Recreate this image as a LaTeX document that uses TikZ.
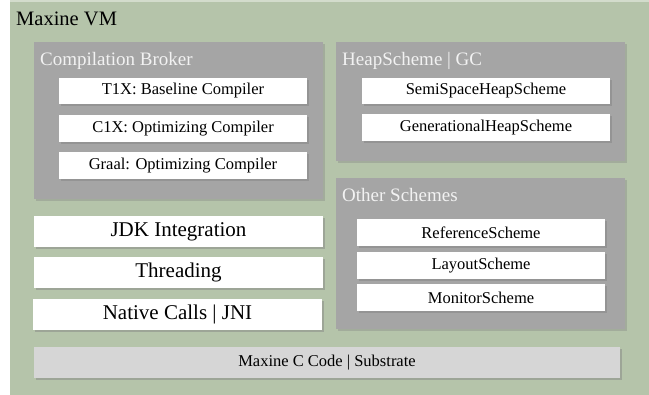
\documentclass[tikz,border=0pt]{standalone}
\usepackage{fontspec}
\setmainfont{Liberation Serif}
\usetikzlibrary{shadows}
\definecolor{vmgreen}{RGB}{181,196,170}
\definecolor{boxgray}{RGB}{165,165,165}
\definecolor{subgray}{RGB}{214,214,214}
\definecolor{titlewhite}{RGB}{242,242,242}

\begin{document}
\begin{tikzpicture}[x=1pt,y=-1pt,
    group/.style={rectangle,fill=boxgray,inner sep=0pt,minimum width=289pt,
      drop shadow={shadow xshift=1.5pt,shadow yshift=-2pt,opacity=0.35}},
    part/.style={rectangle,fill=white,inner sep=0pt,minimum width=248pt,minimum height=27pt,
      font=\fontsize{16.5}{18}\selectfont,
      drop shadow={shadow xshift=1.5pt,shadow yshift=-2pt,opacity=0.45}},
    layer/.style={rectangle,fill=white,inner sep=0pt,minimum width=289pt,minimum height=31pt,
      font=\fontsize{21}{24}\selectfont,
      drop shadow={shadow xshift=1.5pt,shadow yshift=-2pt,opacity=0.45}},
    grouptitle/.style={anchor=base west,inner sep=0pt,text=titlewhite,font=\fontsize{19}{22}\selectfont}]
    \useasboundingbox (0,0) rectangle (649,395);
    % whole VM
    \fill[vmgreen] (10,0) rectangle (652,398);
    \draw[vmgreen!60!white,line width=2pt] (10,1) -- (652,1);
    \node[anchor=base west,inner sep=0pt,font=\fontsize{20.5}{24}\selectfont] (vm) at (16,26) {Maxine VM};

    % compilers
    \node[group,minimum height=157pt] (broker) at (178.5,120.5) {};
    \node[grouptitle] (brokertitle) at (40,66) {Compilation Broker};
    \node[part,minimum height=26pt] (t1x) at (183,91) {T1X: Baseline Compiler};
    \node[part] (c1x) at (183,128.5) {C1X: Optimizing Compiler};
    \node[part] (graal) at (183,165.5) {Graal: Optimizing Compiler};

    % heap
    \node[group,minimum height=119pt] (heap) at (480.5,101.5) {};
    \node[grouptitle] (heaptitle) at (342,66) {HeapScheme | GC};
    \node[part,minimum height=26pt] (semispace) at (486,91) {SemiSpaceHeapScheme};
    \node[part] (generational) at (486,127.5) {GenerationalHeapScheme};

    % other schemes
    \node[group,minimum height=151pt] (other) at (480.5,253.5) {};
    \node[grouptitle] (othertitle) at (342,202) {Other Schemes};
    \node[part] (reference) at (481,232.5) {ReferenceScheme};
    \node[part] (layout) at (481,265.5) {LayoutScheme};
    \node[part] (monitor) at (481,297.5) {MonitorScheme};

    % runtime layers
    \node[layer] (jdk) at (178.5,231.5) {JDK Integration};
    \node[layer] (threading) at (178.5,272.5) {Threading};
    \node[layer] (native) at (177.5,314.5) {Native Calls | JNI};

    % substrate
    \node[layer,fill=subgray,minimum width=586pt,font=\fontsize{16.5}{18}\selectfont] (substrate) at (327,362.5) {Maxine C Code | Substrate};
\end{tikzpicture}
\end{document}
